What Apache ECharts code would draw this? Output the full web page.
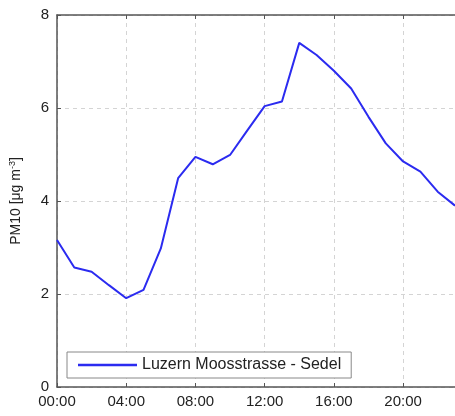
<!DOCTYPE html>
<html>
<head>
<meta charset="utf-8">
<script src="https://cdn.jsdelivr.net/npm/echarts@6/dist/echarts.min.js"></script>
<style>html,body{margin:0;padding:0;background:#fff}#c{width:455px;height:416px}</style>
</head>
<body>
<div id="c"></div>
<script>
const hours = ["00:00","01:00","02:00","03:00","04:00","05:00","06:00","07:00","08:00","09:00","10:00","11:00","12:00","13:00","14:00","15:00","16:00","17:00","18:00","19:00","20:00","21:00","22:00","23:00"];
const pm10 = [3.16,2.57,2.48,2.19,1.91,2.09,2.98,4.49,4.95,4.79,4.99,5.52,6.04,6.14,7.40,7.14,6.80,6.42,5.81,5.24,4.85,4.63,4.20,3.90];
const seriesName = "Luzern Moosstrasse - Sedel";
const yTicks = [0,2,4,6,8];

const chart = echarts.init(document.getElementById('c'), null, {renderer:'canvas'});
const axisCol = '#555';
const font = 'Liberation Sans, Arial, sans-serif';
chart.setOption({
  animation:false,
  backgroundColor:'#fff',
  grid:{left:56,top:15,right:-7,bottom:29,containLabel:false},
  legend:{
    left:67, top:352, orient:'horizontal',
    backgroundColor:'#fff', borderColor:'#888', borderWidth:1,
    padding:[5,10,5,11], itemWidth:59, itemHeight:2.5, itemGap:6,
    icon:'rect',
    textStyle:{fontFamily:font,fontSize:16,color:'#222'},
    data:[{name:seriesName}]
  },
  xAxis:[{
    type:'category', data:hours, boundaryGap:false,
    axisLine:{lineStyle:{color:axisCol,width:1.5}},
    axisTick:{inside:true,length:4,interval:3,lineStyle:{color:axisCol}},
    axisLabel:{interval:3,fontFamily:font,fontSize:15,color:'#222',margin:7},
    splitLine:{show:true,interval:3,lineStyle:{type:[4,4],color:'#d4d4d4',width:1}}
  },{
    type:'category', data:hours, boundaryGap:false, position:'top',
    axisLine:{lineStyle:{color:axisCol,width:1.5}},
    axisTick:{inside:true,length:4,interval:3,lineStyle:{color:axisCol}},
    axisLabel:{show:false}, splitLine:{show:false}
  }],
  yAxis:{
    type:'value', min:yTicks[0], max:yTicks[yTicks.length-1], interval:2,
    name:'PM10 [μg m{sup|-3}]', nameLocation:'middle', nameGap:32, nameRotate:90,
    nameTextStyle:{fontFamily:font,fontSize:14,color:'#222',
      rich:{sup:{fontFamily:font,fontSize:9,color:'#222',verticalAlign:'top',padding:[0,0,8,0]}}},
    axisLine:{show:true,lineStyle:{color:axisCol,width:1.5}},
    axisTick:{show:true,inside:true,length:4,lineStyle:{color:axisCol}},
    axisLabel:{fontFamily:font,fontSize:15,color:'#222',margin:8},
    splitLine:{show:true,lineStyle:{type:[4,4],color:'#d4d4d4',width:1}}
  },
  series:[{
    name:seriesName, type:'line', data:pm10, symbol:'none',
    lineStyle:{color:'#2b2bf0',width:2}, itemStyle:{color:'#2b2bf0'}
  }]
});
</script>
</body>
</html>
